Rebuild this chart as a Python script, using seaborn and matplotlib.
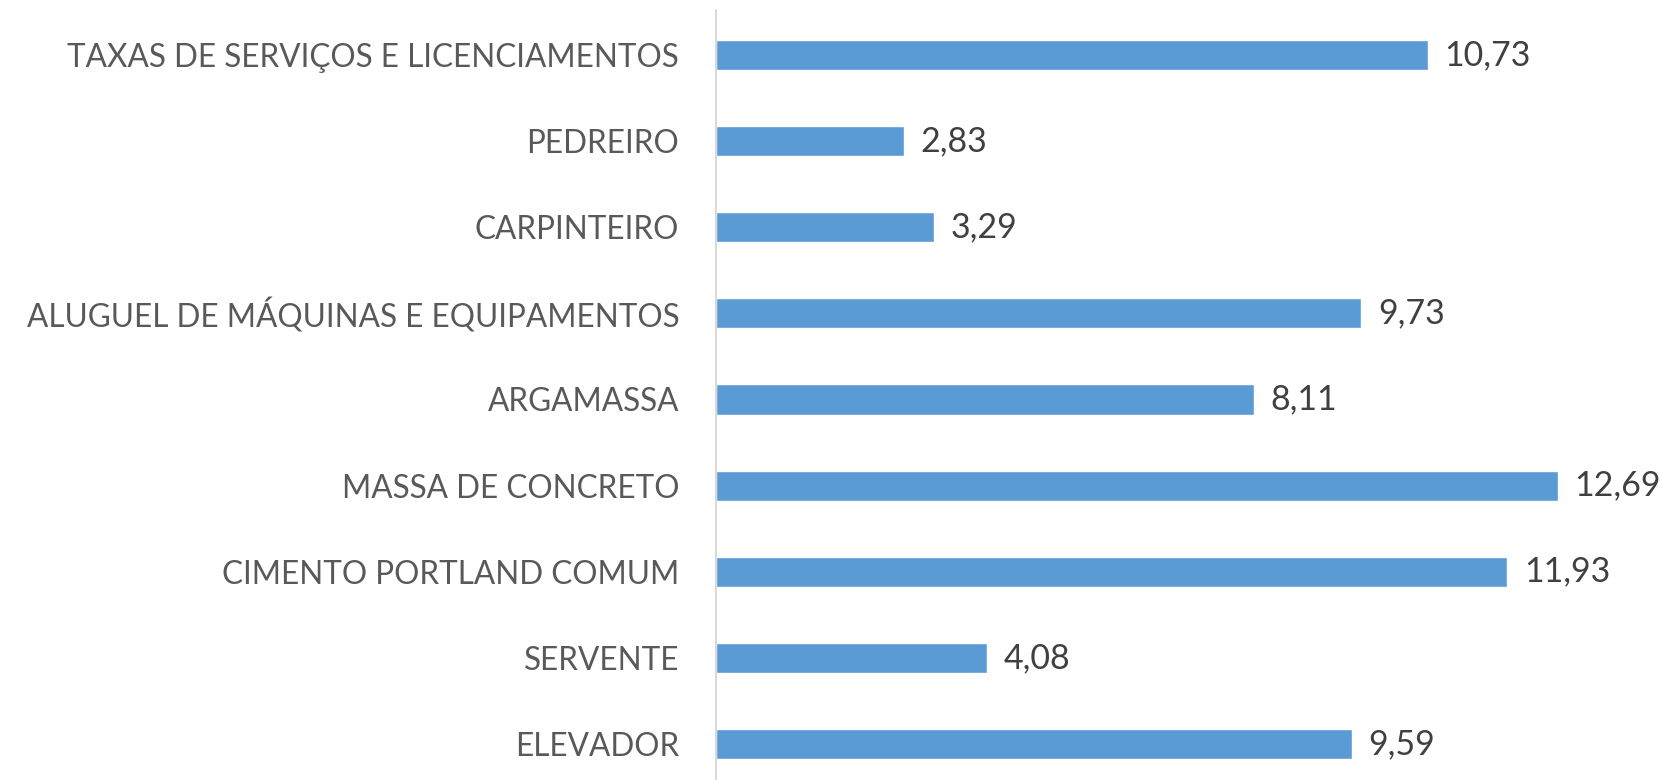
import matplotlib
matplotlib.use("Agg")
import matplotlib.pyplot as plt
import seaborn as sns
import pandas as pd

# dados (de cima para baixo)
categorias = [
    "TAXAS DE SERVIÇOS E LICENCIAMENTOS",
    "PEDREIRO",
    "CARPINTEIRO",
    "ALUGUEL DE MÁQUINAS E EQUIPAMENTOS",
    "ARGAMASSA",
    "MASSA DE CONCRETO",
    "CIMENTO PORTLAND COMUM",
    "SERVENTE",
    "ELEVADOR",
]
valores = [10.73, 2.83, 3.29, 9.73, 8.11, 12.69, 11.93, 4.08, 9.59]

df = pd.DataFrame({"categoria": categorias, "valor": valores})

sns.set_theme(style="white")
plt.rcParams["font.family"] = ["Lato", "DejaVu Sans"]

W, H = 1663, 780
fig = plt.figure(figsize=(W / 100, H / 100), dpi=100)
ax = fig.add_axes([716 / W, -7 / H, (W - 716) / W, 775 / H])

sns.barplot(data=df, x="valor", y="categoria", orient="h", color="#5B9BD5",
            width=0.35, saturation=1, ax=ax)

ax.set_xlim(0, 14.28)
ax.set_xlabel("")
ax.set_ylabel("")
ax.set_xticks([])
ax.tick_params(axis="y", length=0, pad=26.5, labelsize=22.7, labelcolor="#595959")

for s in ["top", "right", "bottom"]:
    ax.spines[s].set_visible(False)
ax.spines["left"].set_color("#D9D9D9")
ax.spines["left"].set_linewidth(1.5)
ax.spines["left"].set_bounds(-0.52, 8.6)

rotulos = [f"{v:.2f}".replace(".", ",") for v in valores]
ax.bar_label(ax.containers[0], labels=rotulos, padding=12, fontsize=24.5,
             color="#404040")

fig.savefig("out.png", dpi=100)
